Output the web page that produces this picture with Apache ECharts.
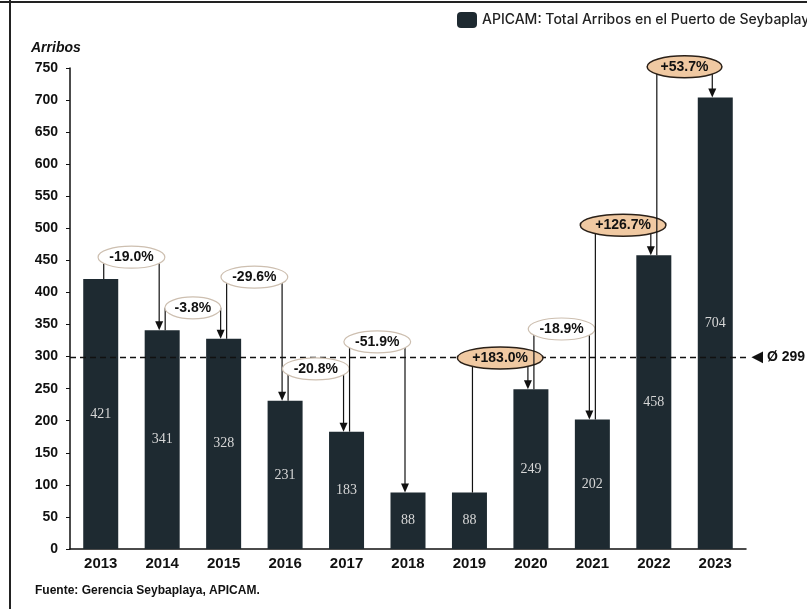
<!DOCTYPE html>
<html>
<head>
<meta charset="utf-8">
<script src="https://cdn.jsdelivr.net/npm/echarts@6/dist/echarts.min.js"></script>
<style>
  html, body { margin: 0; padding: 0; background: #fff; }
  #main { width: 807px; height: 609px; }
</style>
</head>
<body>
<div id="main"></div>
<script>
var years = ['2013', '2014', '2015', '2016', '2017', '2018', '2019', '2020', '2021', '2022', '2023'];
var arrivals = [421, 341, 328, 231, 183, 88, 88, 249, 202, 458, 704];
// year-on-year change, one per pair of years ('' = no bubble)
var changes = ['-19.0%', '-3.8%', '-29.6%', '-20.8%', '-51.9%', '', '+183.0%', '-18.9%', '+126.7%', '+53.7%'];
// height (in arrivals) where each bubble sits
var bubbleAt = [455, 376, 424, 281, 323, null, 298, 343, 505, 752];
var average = 299;

var seriesName = 'APICAM: Total Arribos en el Puerto de Seybaplaya';
var font = '"Liberation Sans", Arial, sans-serif';

var bracketData = [];
for (var i = 0; i < changes.length; i++) {
  if (!changes[i]) continue;
  bracketData.push([i, arrivals[i], arrivals[i + 1], bubbleAt[i]]);
}

// bracket: line up from bar i, bubble, line down with arrow onto bar i+1
function renderBracket(params, api) {
  var i = api.value(0);
  var c0 = api.coord([i, api.value(1)]);
  var c1 = api.coord([i + 1, api.value(2)]);
  var by = api.coord([i, api.value(3)])[1];
  var bx = (c0[0] + c1[0]) / 2;
  var x0 = c0[0] + 3, x1 = c1[0] - 3;
  var txt = changes[i];
  var up = txt.charAt(0) === '+';
  var rx = txt.length * 5.4 + (up ? 5 : 1);
  var line = { stroke: '#111', lineWidth: 1.2 };
  return {
    type: 'group',
    children: [
      { type: 'line', shape: { x1: x0, y1: c0[1], x2: x0, y2: by }, style: line },
      { type: 'line', shape: { x1: x1, y1: by, x2: x1, y2: c1[1] - 7 }, style: line },
      { type: 'polygon', shape: { points: [[x1 - 4, c1[1] - 9], [x1 + 4, c1[1] - 9], [x1, c1[1]]] }, style: { fill: '#111' } },
      { type: 'ellipse', shape: { cx: bx, cy: by, rx: rx, ry: 11 },
        style: { fill: up ? '#f0c9a2' : '#ffffff', stroke: up ? '#2a2018' : '#cdbfb0', lineWidth: up ? 1.5 : 1.2 } },
      { type: 'text', x: bx, y: by,
        style: { text: txt, fill: '#111', font: 'bold 14px ' + font, align: 'center', verticalAlign: 'middle' } }
    ]
  };
}

var chart = echarts.init(document.getElementById('main'), null, { renderer: 'canvas' });

var option = {
  backgroundColor: '#ffffff',
  animation: false,
  grid: { left: 70, right: 61, top: 68, bottom: 60, containLabel: false },
  legend: {
    left: 452, top: 7,
    itemWidth: 20, itemHeight: 16, itemGap: 6,
    data: [seriesName],
    textStyle: { color: '#222', fontSize: 14, fontWeight: 500, fontFamily: 'Inter, "Noto Sans", sans-serif' }
  },
  graphic: [
    { type: 'line', shape: { x1: 10, y1: 0, x2: 10, y2: 609 }, style: { stroke: '#222', lineWidth: 2 } },
    { type: 'line', shape: { x1: 0, y1: 2, x2: 807, y2: 2 }, style: { stroke: '#222', lineWidth: 2 } },
    { type: 'text', left: 31, top: 41,
      style: { text: 'Arribos', fill: '#111', font: 'italic bold 14px ' + font } },
    { type: 'text', left: 35, top: 585,
      style: { text: 'Fuente: Gerencia Seybaplaya, APICAM.', fill: '#111', font: 'bold 12px ' + font } }
  ],
  xAxis: {
    type: 'category',
    data: years,
    axisLine: { lineStyle: { color: '#111', width: 1.5 } },
    axisTick: { show: false },
    axisLabel: { color: '#111', fontSize: 15, fontWeight: 'bold', fontFamily: font, margin: 7 }
  },
  yAxis: {
    type: 'value',
    min: 0, max: 750, interval: 50,
    axisLine: { show: true, lineStyle: { color: '#111', width: 1.5 } },
    axisTick: { show: true, length: 4, lineStyle: { color: '#111' } },
    axisLabel: { color: '#111', fontSize: 14, fontWeight: 'bold', fontFamily: font, margin: 12 },
    splitLine: { show: false }
  },
  series: [
    {
      name: seriesName,
      type: 'bar',
      data: arrivals,
      barWidth: 35,
      z: 2,
      itemStyle: { color: '#1e2a31' },
      label: {
        show: true, position: 'inside',
        color: '#d6d6d6', fontSize: 14, fontFamily: '"Liberation Serif", "DejaVu Serif", serif'
      },
      markLine: {
        silent: true,
        symbol: ['none', 'none'],
        lineStyle: { color: '#111', type: [6, 4], width: 1.3 },
        label: {
          position: 'end', distance: 6,
          formatter: '◀ Ø ' + average,
          color: '#111', fontSize: 14, fontWeight: 'bold', fontFamily: font
        },
        data: [{ yAxis: average }]
      }
    },
    {
      type: 'custom',
      z: 5,
      clip: false,
      renderItem: renderBracket,
      data: bracketData,
      encode: { x: 0, y: 3 },
      silent: true
    }
  ]
};

chart.setOption(option);
</script>
</body>
</html>
